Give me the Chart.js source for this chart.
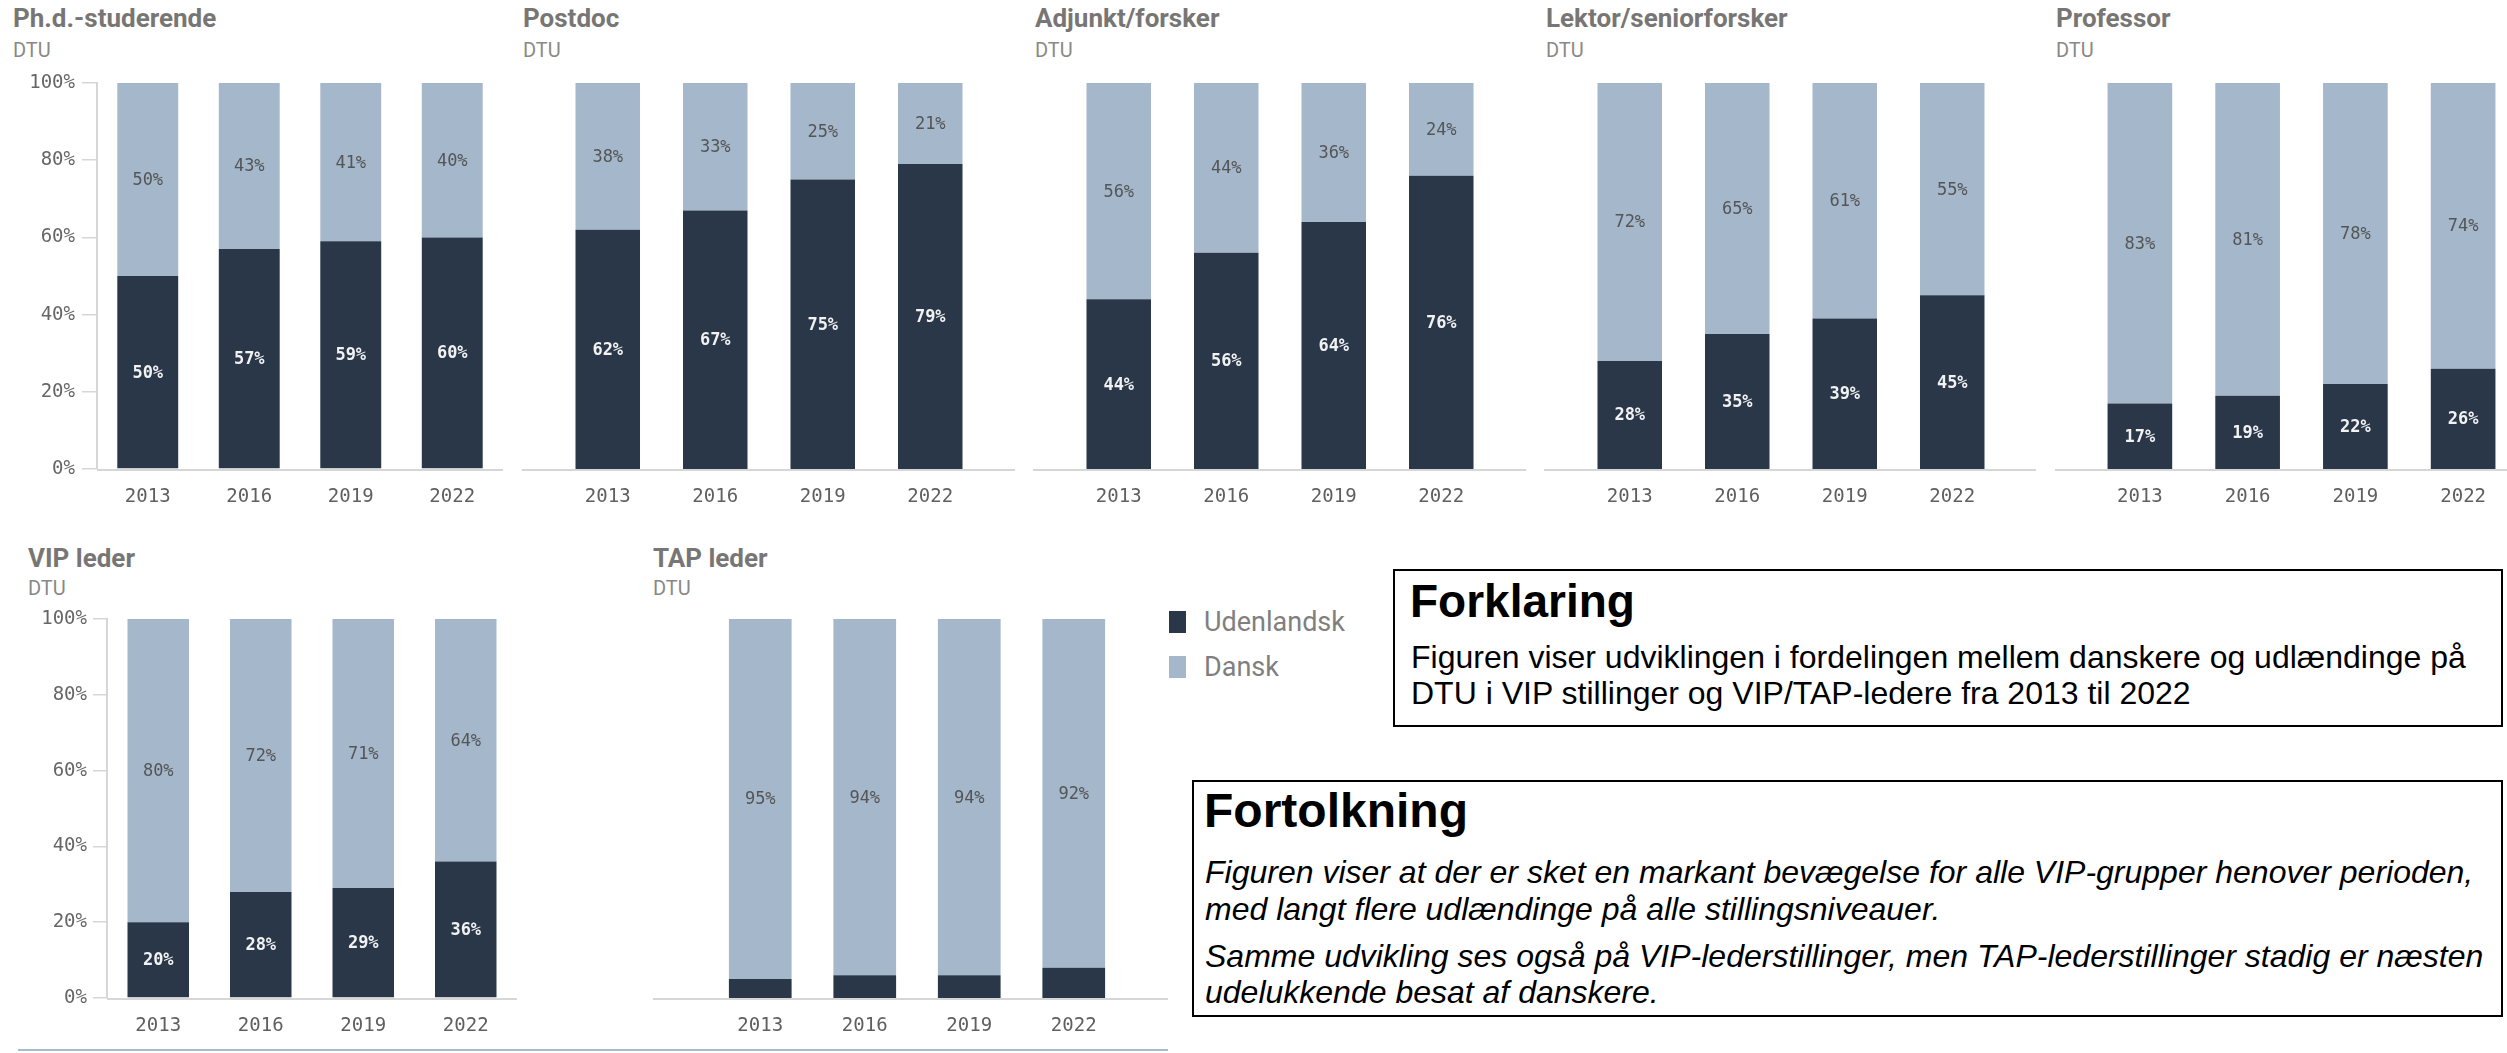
<!DOCTYPE html>
<html lang="da">
<head>
<meta charset="utf-8">
<title>DTU - Udenlandsk / Dansk</title>
<script src="https://cdn.jsdelivr.net/npm/chart.js@4.4.1/dist/chart.umd.min.js"></script>
<style>
  html, body {
    margin: 0;
    padding: 0;
    width: 2507px;
    height: 1053px;
    overflow: hidden;
    background: #fff;
  }
  .abs { position: absolute; white-space: nowrap; line-height: 1; }
  .title { font-family: Roboto, "Open Sans", sans-serif; font-weight: 700; font-size: 26px; color: #787674; }
  .sub { font-family: Roboto, "Open Sans", sans-serif; font-size: 20px; color: #8a8886; }
  canvas { position: absolute; }
  .legend-box { position: absolute; width: 17px; height: 22px; }
  .legend-txt { font-family: Roboto, sans-serif; font-size: 27px; color: #7f7f7f; }
  .box { position: absolute; border: 2px solid #000; box-sizing: border-box; }
  .txt { font-family: "Liberation Sans", Arial, sans-serif; color: #000; }
  .sep { position: absolute; left: 18px; top: 1049px; width: 1150px; height: 2px; background: #a8bace; }
</style>
</head>
<body>

<script>
// Years on the x axis
const years = ["2013", "2016", "2019", "2022"];

// Share of staff (%) per group: Udenlandsk / Dansk
const phdUdenlandsk = [50, 57, 59, 60];
const phdDansk = [50, 43, 41, 40];

const postdocUdenlandsk = [62, 67, 75, 79];
const postdocDansk = [38, 33, 25, 21];

const adjunktUdenlandsk = [44, 56, 64, 76];
const adjunktDansk = [56, 44, 36, 24];

const lektorUdenlandsk = [28, 35, 39, 45];
const lektorDansk = [72, 65, 61, 55];

const professorUdenlandsk = [17, 19, 22, 26];
const professorDansk = [83, 81, 78, 74];

const vipLederUdenlandsk = [20, 28, 29, 36];
const vipLederDansk = [80, 72, 71, 64];

const tapLederUdenlandsk = [5, 6, 6, 8];
const tapLederDansk = [95, 94, 94, 92];

// y axis ticks
const yTicks = [0, 20, 40, 60, 80, 100];

const seriesNames = ["Udenlandsk", "Dansk"];
const DARK = "#293749";
const LIGHT = "#a4b7cb";
const MONO = '"DejaVu Sans Mono", "Liberation Mono", monospace';

// Layout of each small chart (canvas position + axis setup)
const panels = [
  { title: "Ph.d.-studerende", u: phdUdenlandsk, d: phdDansk, titleX: 13, row: 0, left: 0, width: 503, padL: 0, padR: 0, yWidth: 97, tickLen: 15, tickPad: 7 },
  { title: "Postdoc", u: postdocUdenlandsk, d: postdocDansk, titleX: 523, row: 0, left: 522, width: 493, padL: 32, padR: 31 },
  { title: "Adjunkt/forsker", u: adjunktUdenlandsk, d: adjunktDansk, titleX: 1035, row: 0, left: 1033, width: 493, padL: 32, padR: 31 },
  { title: "Lektor/seniorforsker", u: lektorUdenlandsk, d: lektorDansk, titleX: 1546, row: 0, left: 1544, width: 492, padL: 32, padR: 30 },
  { title: "Professor", u: professorUdenlandsk, d: professorDansk, titleX: 2056, row: 0, left: 2055, width: 493, padL: 31, padR: 31 },
  { title: "VIP leder", u: vipLederUdenlandsk, d: vipLederDansk, titleX: 28, row: 1, left: 0, width: 517, padL: 0, padR: 0, yWidth: 107, tickLen: 14, tickPad: 6 },
  { title: "TAP leder", u: tapLederUdenlandsk, d: tapLederDansk, titleX: 653, row: 1, left: 653, width: 515, padL: 55, padR: 42 },
];

// plot top = canvasTop + 20
const rows = [
  { canvasTop: 63, height: 456, titleTop: 5, subTop: 40 },
  { canvasTop: 599, height: 449, titleTop: 545, subTop: 578 },
];

// Segment labels in the middle of each bar piece
const segmentLabels = {
  id: "segmentLabels",
  afterDatasetsDraw(chart) {
    const ctx = chart.ctx;
    ctx.save();
    ctx.textAlign = "center";
    ctx.textBaseline = "middle";
    chart.data.datasets.forEach((ds, i) => {
      const meta = chart.getDatasetMeta(i);
      ctx.font = (i === 0 ? "bold " : "") + "17px " + MONO;
      ctx.fillStyle = i === 0 ? "#f2f2f2" : "#555555";
      meta.data.forEach((bar, j) => {
        const v = ds.data[j];
        if (v < 10) return;
        ctx.fillText(v + "%", bar.x, (bar.y + bar.base) / 2 + 1);
      });
    });
    ctx.restore();
  },
};

// Baseline running under the bars (also across the side padding)
const baseLine = {
  id: "baseLine",
  afterDraw(chart, args, opts) {
    const { ctx, chartArea } = chart;
    ctx.save();
    ctx.strokeStyle = "#d6d6d6";
    ctx.lineWidth = 2;
    ctx.beginPath();
    ctx.moveTo(chartArea.left - opts.padL, chartArea.bottom + 1);
    ctx.lineTo(chartArea.right + opts.padR, chartArea.bottom + 1);
    ctx.stroke();
    ctx.restore();
  },
};

panels.forEach((p) => {
  const row = rows[p.row];

  const t = document.createElement("div");
  t.className = "abs title";
  t.style.left = p.titleX + "px";
  t.style.top = row.titleTop + "px";
  t.textContent = p.title;
  document.body.appendChild(t);

  const s = document.createElement("div");
  s.className = "abs sub";
  s.style.left = p.titleX + "px";
  s.style.top = row.subTop + "px";
  s.textContent = "DTU";
  document.body.appendChild(s);

  const canvas = document.createElement("canvas");
  canvas.width = p.width;
  canvas.height = row.height;
  canvas.style.left = p.left + "px";
  canvas.style.top = row.canvasTop + "px";
  document.body.appendChild(canvas);

  const hasY = !!p.yWidth;

  new Chart(canvas.getContext("2d"), {
    type: "bar",
    data: {
      labels: years,
      datasets: [
        { label: seriesNames[0], data: p.u, backgroundColor: DARK },
        { label: seriesNames[1], data: p.d, backgroundColor: LIGHT },
      ],
    },
    options: {
      responsive: false,
      animation: false,
      events: [],
      categoryPercentage: 1,
      barPercentage: 0.6,
      layout: { padding: { top: 20, bottom: 0, left: hasY ? 0 : p.padL, right: hasY ? 0 : p.padR } },
      plugins: {
        legend: { display: false },
        tooltip: { enabled: false },
        baseLine: { padL: hasY ? 0 : p.padL, padR: hasY ? 0 : p.padR },
      },
      scales: {
        x: {
          stacked: true,
          grid: { display: false },
          border: { display: false },
          ticks: { color: "#5f5f5f", font: { family: MONO, size: 19 }, padding: 9 },
          afterFit: (scale) => { scale.height = 50; },
        },
        y: {
          stacked: true,
          display: hasY,
          min: 0,
          max: 100,
          afterBuildTicks: (scale) => { scale.ticks = yTicks.map((v) => ({ value: v })); },
          ticks: {
            color: "#666666",
            font: { family: MONO, size: 19 },
            padding: p.tickPad || 7,
            callback: (v) => v + "%",
          },
          grid: { drawOnChartArea: false, drawTicks: true, tickLength: p.tickLen || 15, color: "#d6d6d6", lineWidth: 1.5 },
          border: { color: "#d6d6d6", width: 2 },
          afterFit: (scale) => { if (hasY) scale.width = p.yWidth; },
        },
      },
    },
    plugins: [segmentLabels, baseLine],
  });
});
</script>

<!-- shared legend -->
<div class="legend-box" style="left:1169px; top:611px; background:#293749;"></div>
<div class="abs legend-txt" style="left:1204px; top:609px;">Udenlandsk</div>
<div class="legend-box" style="left:1169px; top:656px; background:#a4b7cb;"></div>
<div class="abs legend-txt" style="left:1204px; top:654px;">Dansk</div>

<!-- Forklaring -->
<div class="box" style="left:1393px; top:569px; width:1110px; height:158px;"></div>
<div class="abs txt" style="left:1410px; top:578px; font-size:46px; font-weight:bold;">Forklaring</div>
<div class="abs txt" style="left:1411px; top:641px; font-size:32px;">Figuren viser udviklingen i fordelingen mellem danskere og udlændinge på</div>
<div class="abs txt" style="left:1411px; top:677px; font-size:32px;">DTU i VIP stillinger og VIP/TAP-ledere fra 2013 til 2022</div>

<!-- Fortolkning -->
<div class="box" style="left:1192px; top:780px; width:1311px; height:237px;"></div>
<div class="abs txt" style="left:1204px; top:787px; font-size:48px; font-weight:bold;">Fortolkning</div>
<div class="abs txt" style="left:1205px; top:856px; font-size:32px; font-style:italic;">Figuren viser at der er sket en markant bevægelse for alle VIP-grupper henover perioden,</div>
<div class="abs txt" style="left:1205px; top:893px; font-size:32px; font-style:italic;">med langt flere udlændinge på alle stillingsniveauer.</div>
<div class="abs txt" style="left:1205px; top:940px; font-size:32px; font-style:italic;">Samme udvikling ses også på VIP-lederstillinger, men TAP-lederstillinger stadig er næsten</div>
<div class="abs txt" style="left:1205px; top:976px; font-size:32px; font-style:italic;">udelukkende besat af danskere.</div>

<div class="sep"></div>
</body>
</html>
